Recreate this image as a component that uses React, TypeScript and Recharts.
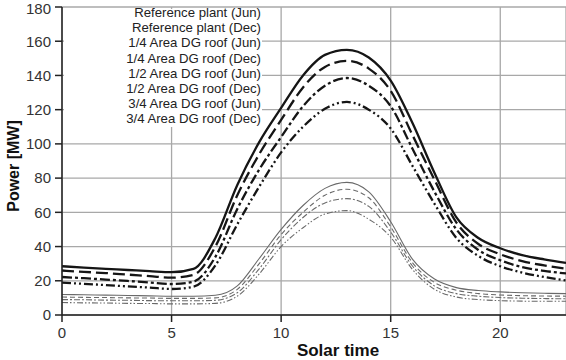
import React from "react";
import { LineChart, Line, XAxis, YAxis, CartesianGrid, Label } from "recharts";

const hours = [0,1,2,3,4,5,6,7,8,9,10,11,12,13,14,15,16,17,18,19,20,21,22,23];

const refJun  = [7.3,7.1,7.0,6.8,6.7,6.5,6.5,6.8,11,24,40,51,59,61,56,45.5,26.5,15,10.5,9,8.4,8.1,8,8];
const refDec  = [18.9,18.2,17.5,16.7,16,15.2,16.5,29,53,75,95,110,120.5,124.5,120,109,87,65,45,34.5,28.5,24.8,22.2,20.2];
const q1Jun   = [9,8.9,8.7,8.6,8.4,8.3,8.3,8.6,13,27,44,57,65.5,68,63.5,48.5,28.5,17,12.5,11,10.2,9.8,9.6,9.5];
const q1Dec   = [22.2,21.5,20.7,19.9,19,18.1,19.5,34,62,85,104,122,134,138.5,134,122,97,72,50,38,32,28,25.8,24.3];
const h2Jun   = [10.5,10.3,10.2,10,9.9,9.7,9.7,10,15,30,47,60,70,73.5,68.5,51.5,30.5,19,14.5,12.5,11.7,11.3,11.1,11];
const h2Dec   = [26,25.2,24.5,23.6,22.7,21.8,23.5,40,70,94,114,133,145,148.5,144,131,105,79,54,41.5,35.5,31.5,29,27];
const q3Jun   = [12,11.8,11.6,11.4,11.2,11,11,11.5,17,33,50,64,74,77.5,72,54.5,32.5,21,16,14.3,13.5,13,12.7,12.5];
const q3Dec   = [28.5,27.7,27,26.3,25.6,25,27,45,76,101,121,140,152,155,150.5,137,112,83,57,45,39,35,32.5,30.5];

const xTicks = [0,5,10,15,20];
const yTicks = [0,20,40,60,80,100,120,140,160,180];

type S = { key: string; name: string; values: number[]; color: string; width: number; dash?: string };
const series: S[] = [
  { key: "refJun", name: "Reference plant (Jun)", values: refJun, color: "#6a6a6a", width: 1.1, dash: "6 2 1.5 2 1.5 2" },
  { key: "refDec", name: "Reference plant (Dec)", values: refDec, color: "#151515", width: 2.3, dash: "9 3 2 3 2 3" },
  { key: "q1Jun", name: "1/4 Area DG roof (Jun)", values: q1Jun, color: "#6a6a6a", width: 1.1, dash: "6 2 2 2" },
  { key: "q1Dec", name: "1/4 Area DG roof (Dec)", values: q1Dec, color: "#151515", width: 2.3, dash: "10 3 3 3" },
  { key: "h2Jun", name: "1/2 Area DG roof (Jun)", values: h2Jun, color: "#6a6a6a", width: 1.1, dash: "5 3" },
  { key: "h2Dec", name: "1/2 Area DG roof (Dec)", values: h2Dec, color: "#151515", width: 2.3, dash: "12 5" },
  { key: "q3Jun", name: "3/4 Area DG roof (Jun)", values: q3Jun, color: "#6a6a6a", width: 1.1 },
  { key: "q3Dec", name: "3/4 Area DG roof (Dec)", values: q3Dec, color: "#151515", width: 2.3 },
];

const data = hours.map((h, i) => {
  const row: Record<string, number> = { h };
  series.forEach((s) => { row[s.key] = s.values[i]; });
  return row;
});

const FONT = "Arial, 'Liberation Sans', sans-serif";

export default function App() {
  return (
    <div style={{ position: "absolute", left: 0, top: 0, width: 566, height: 360, background: "#fff", fontFamily: FONT }}>
      <LineChart width={566} height={360} data={data} margin={{ top: 7, right: 0, left: 0, bottom: 0 }}>
        <CartesianGrid stroke="#a8a8a8" strokeWidth={1.3} />
        <XAxis
          dataKey="h"
          type="number"
          domain={[0, 23]}
          ticks={xTicks}
          height={45}
          tickSize={7}
          tickMargin={5}
          stroke="#222"
          strokeWidth={1.5}
          tick={{ fontSize: 15, fill: "#333", fontFamily: FONT }}
        >
          <Label value="Solar time" position="insideBottom" offset={4} dx={24} style={{ fontSize: 17, fontWeight: "bold", fill: "#111", fontFamily: FONT }} />
        </XAxis>
        <YAxis
          type="number"
          domain={[0, 180]}
          ticks={yTicks}
          width={62}
          tickSize={7}
          tickMargin={4}
          stroke="#222"
          strokeWidth={1.5}
          tick={{ fontSize: 15, fill: "#333", fontFamily: FONT }}
        >
          <Label value="Power [MW]" angle={-90} position="insideLeft" offset={13} dy={5} style={{ fontSize: 16, fontWeight: "bold", fill: "#111", fontFamily: FONT, textAnchor: "middle" }} />
        </YAxis>
        {series.map((s) => (
          <Line
            key={s.key}
            dataKey={s.key}
            name={s.name}
            type="monotone"
            stroke={s.color}
            strokeWidth={s.width}
            strokeDasharray={s.dash}
            dot={false}
            activeDot={false}
            isAnimationActive={false}
          />
        ))}
      </LineChart>
      <div
        style={{
          position: "absolute",
          left: 64,
          top: 9,
          width: 198,
          height: 118,
          background: "#fff",
          textAlign: "right",
          fontSize: 13.2,
          lineHeight: "15.2px",
          color: "#222",
          paddingRight: 1,
          boxSizing: "border-box",
        }}
      >
        <div style={{ marginTop: -4 }}>
          {series.map((s) => (
            <div key={s.key} style={{ whiteSpace: "nowrap" }}>{s.name}</div>
          ))}
        </div>
      </div>
    </div>
  );
}
